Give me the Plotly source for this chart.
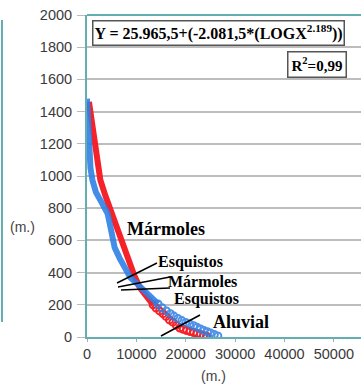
import plotly.graph_objects as go

# Upper (solid band) part of each profile: distance (m) vs elevation (m)
red_dist = [400, 1000, 1700, 2700, 3700, 4800, 5800, 6800, 7700, 8600, 9600, 10700, 12000, 13400]
red_elev = [1460, 1330, 1200, 975, 880, 787, 690, 600, 525, 456, 380, 306, 250, 200]
blue_dist = [0, 80, 200, 400, 700, 1100, 1800, 2700, 3400, 4150, 4600, 5600, 6600, 7600, 8800, 10400, 12400, 14400]
blue_elev = [1480, 1420, 1300, 1150, 1050, 975, 900, 850, 810, 769, 706, 556, 490, 431, 369, 324, 260, 205]

# Lower (open circle) part of each profile
red_low_dist = [13400, 14000, 14700, 15400, 16000, 16700, 17400, 18100, 18800, 19500, 20200, 20900, 21600, 22300, 23000, 23600, 24200]
red_low_elev = [200, 180, 162, 145, 128, 106, 92, 72, 56, 48, 40, 34, 28, 22, 16, 10, 5]
blue_low_dist = [14400, 15200, 16100, 16900, 17600, 18400, 19200, 20000, 20800, 21600, 22300, 23000, 23700, 24400, 25000, 25800, 26500]
blue_low_elev = [205, 182, 162, 145, 130, 115, 102, 90, 81, 70, 60, 50, 40, 32, 25, 15, 6]

x_ticks = [0, 10000, 20000, 30000, 40000, 50000]
y_ticks = list(range(0, 2001, 200))

RED = "#f5222a"
BLUE = "#2f80e6"
TEAL = "#62aeb0"

fig = go.Figure()
fig.add_trace(go.Scatter(x=red_dist, y=red_elev, mode="lines",
                         line=dict(color=RED, width=6), showlegend=False))
fig.add_trace(go.Scatter(x=red_low_dist, y=red_low_elev, mode="markers",
                         marker=dict(symbol="circle-open", size=7, color=RED, line=dict(width=2)),
                         showlegend=False))
fig.add_trace(go.Scatter(x=blue_dist, y=blue_elev, mode="lines",
                         line=dict(color=BLUE, width=6), opacity=0.9, showlegend=False))
fig.add_trace(go.Scatter(x=blue_low_dist, y=blue_low_elev, mode="markers",
                         marker=dict(symbol="circle-open", size=7, color=BLUE, line=dict(width=2)),
                         opacity=0.85, showlegend=False))

SERIF = "Liberation Serif"
ann = []
def lab(text, x, y, size=18, pad=1):
    ann.append(dict(text="<b>%s</b>" % text, x=x, y=y, xref="paper", yref="paper",
                    xanchor="left", yanchor="middle", showarrow=False, borderpad=pad,
                    font=dict(family=SERIF, size=size, color="black")))

W, H = 361, 384
L, T, B = 87, 15, 47
PW, PH = W - L, H - T - B
def px(x): return (x - L) / PW
def py(y): return (H - B - y) / PH

ann.append(dict(text="<b>Y = 25.965,5+(-2.081,5*(LOGX<sup>2.189</sup>))</b>",
                x=px(92), y=py(33), xref="paper", yref="paper", xanchor="left", yanchor="middle",
                showarrow=False, bordercolor="#555555", borderwidth=1.5, borderpad=1,
                bgcolor="white", font=dict(family=SERIF, size=16, color="black")))
ann.append(dict(text="<b>R<sup>2</sup>=0,99</b>",
                x=px(287), y=py(65), xref="paper", yref="paper", xanchor="left", yanchor="middle",
                showarrow=False, bordercolor="#555555", borderwidth=1.5, borderpad=3,
                bgcolor="white", font=dict(family=SERIF, size=15, color="black")))
lab("Mármoles", px(125), py(229))
lab("Esquistos", px(157), py(262), 16, 0)
lab("Mármoles", px(167), py(281), 16, 0)
lab("Esquistos", px(173), py(299), 16, 0)
lab("Aluvial", px(211), py(322))
ann.append(dict(text="(m.)", x=px(22), y=py(227), xref="paper", yref="paper",
                xanchor="center", yanchor="middle", showarrow=False,
                font=dict(family="Liberation Sans", size=14, color="#444444")))
ann.append(dict(text="(m.)", x=px(213), y=py(376), xref="paper", yref="paper",
                xanchor="center", yanchor="middle", showarrow=False,
                font=dict(family="Liberation Sans", size=14, color="#444444")))

shapes = []
def seg(x0, y0, x1, y1, color="black", width=1.5):
    shapes.append(dict(type="line", xref="paper", yref="paper",
                       x0=px(x0), y0=py(y0), x1=px(x1), y1=py(y1),
                       line=dict(color=color, width=width)))
seg(117, 283, 157, 263)
seg(118, 287, 170, 277)
seg(121, 290, 170, 288)
seg(161, 336, 200, 315)
seg(87, 15, 361, 15, TEAL, 2)
seg(2, 20, 2, 322, TEAL, 2)

fig.update_layout(
    width=W, height=H,
    margin=dict(l=L, r=0, t=T, b=B),
    paper_bgcolor="white", plot_bgcolor="white",
    annotations=ann, shapes=shapes,
    xaxis=dict(range=[0, 55500], tickvals=x_ticks, ticktext=[str(v) for v in x_ticks],
               showgrid=False, zeroline=False, showline=True, linecolor=TEAL, linewidth=2,
               ticks="outside", tickcolor="#aaaaaa", ticklen=3,
               tickfont=dict(family="Liberation Sans", size=14.5, color="#3a3a3a")),
    yaxis=dict(range=[0, 2000], tickvals=y_ticks, ticktext=[str(v) for v in y_ticks],
               showgrid=True, gridcolor="#bdbdbd", gridwidth=1.5, zeroline=False,
               showline=True, linecolor=TEAL, linewidth=2,
               ticks="outside", tickcolor="#bbbbbb", ticklen=8, ticklabelstandoff=2,
               tickfont=dict(family="Liberation Sans", size=14.5, color="#3a3a3a")),
)

fig.write_html("out.html")
